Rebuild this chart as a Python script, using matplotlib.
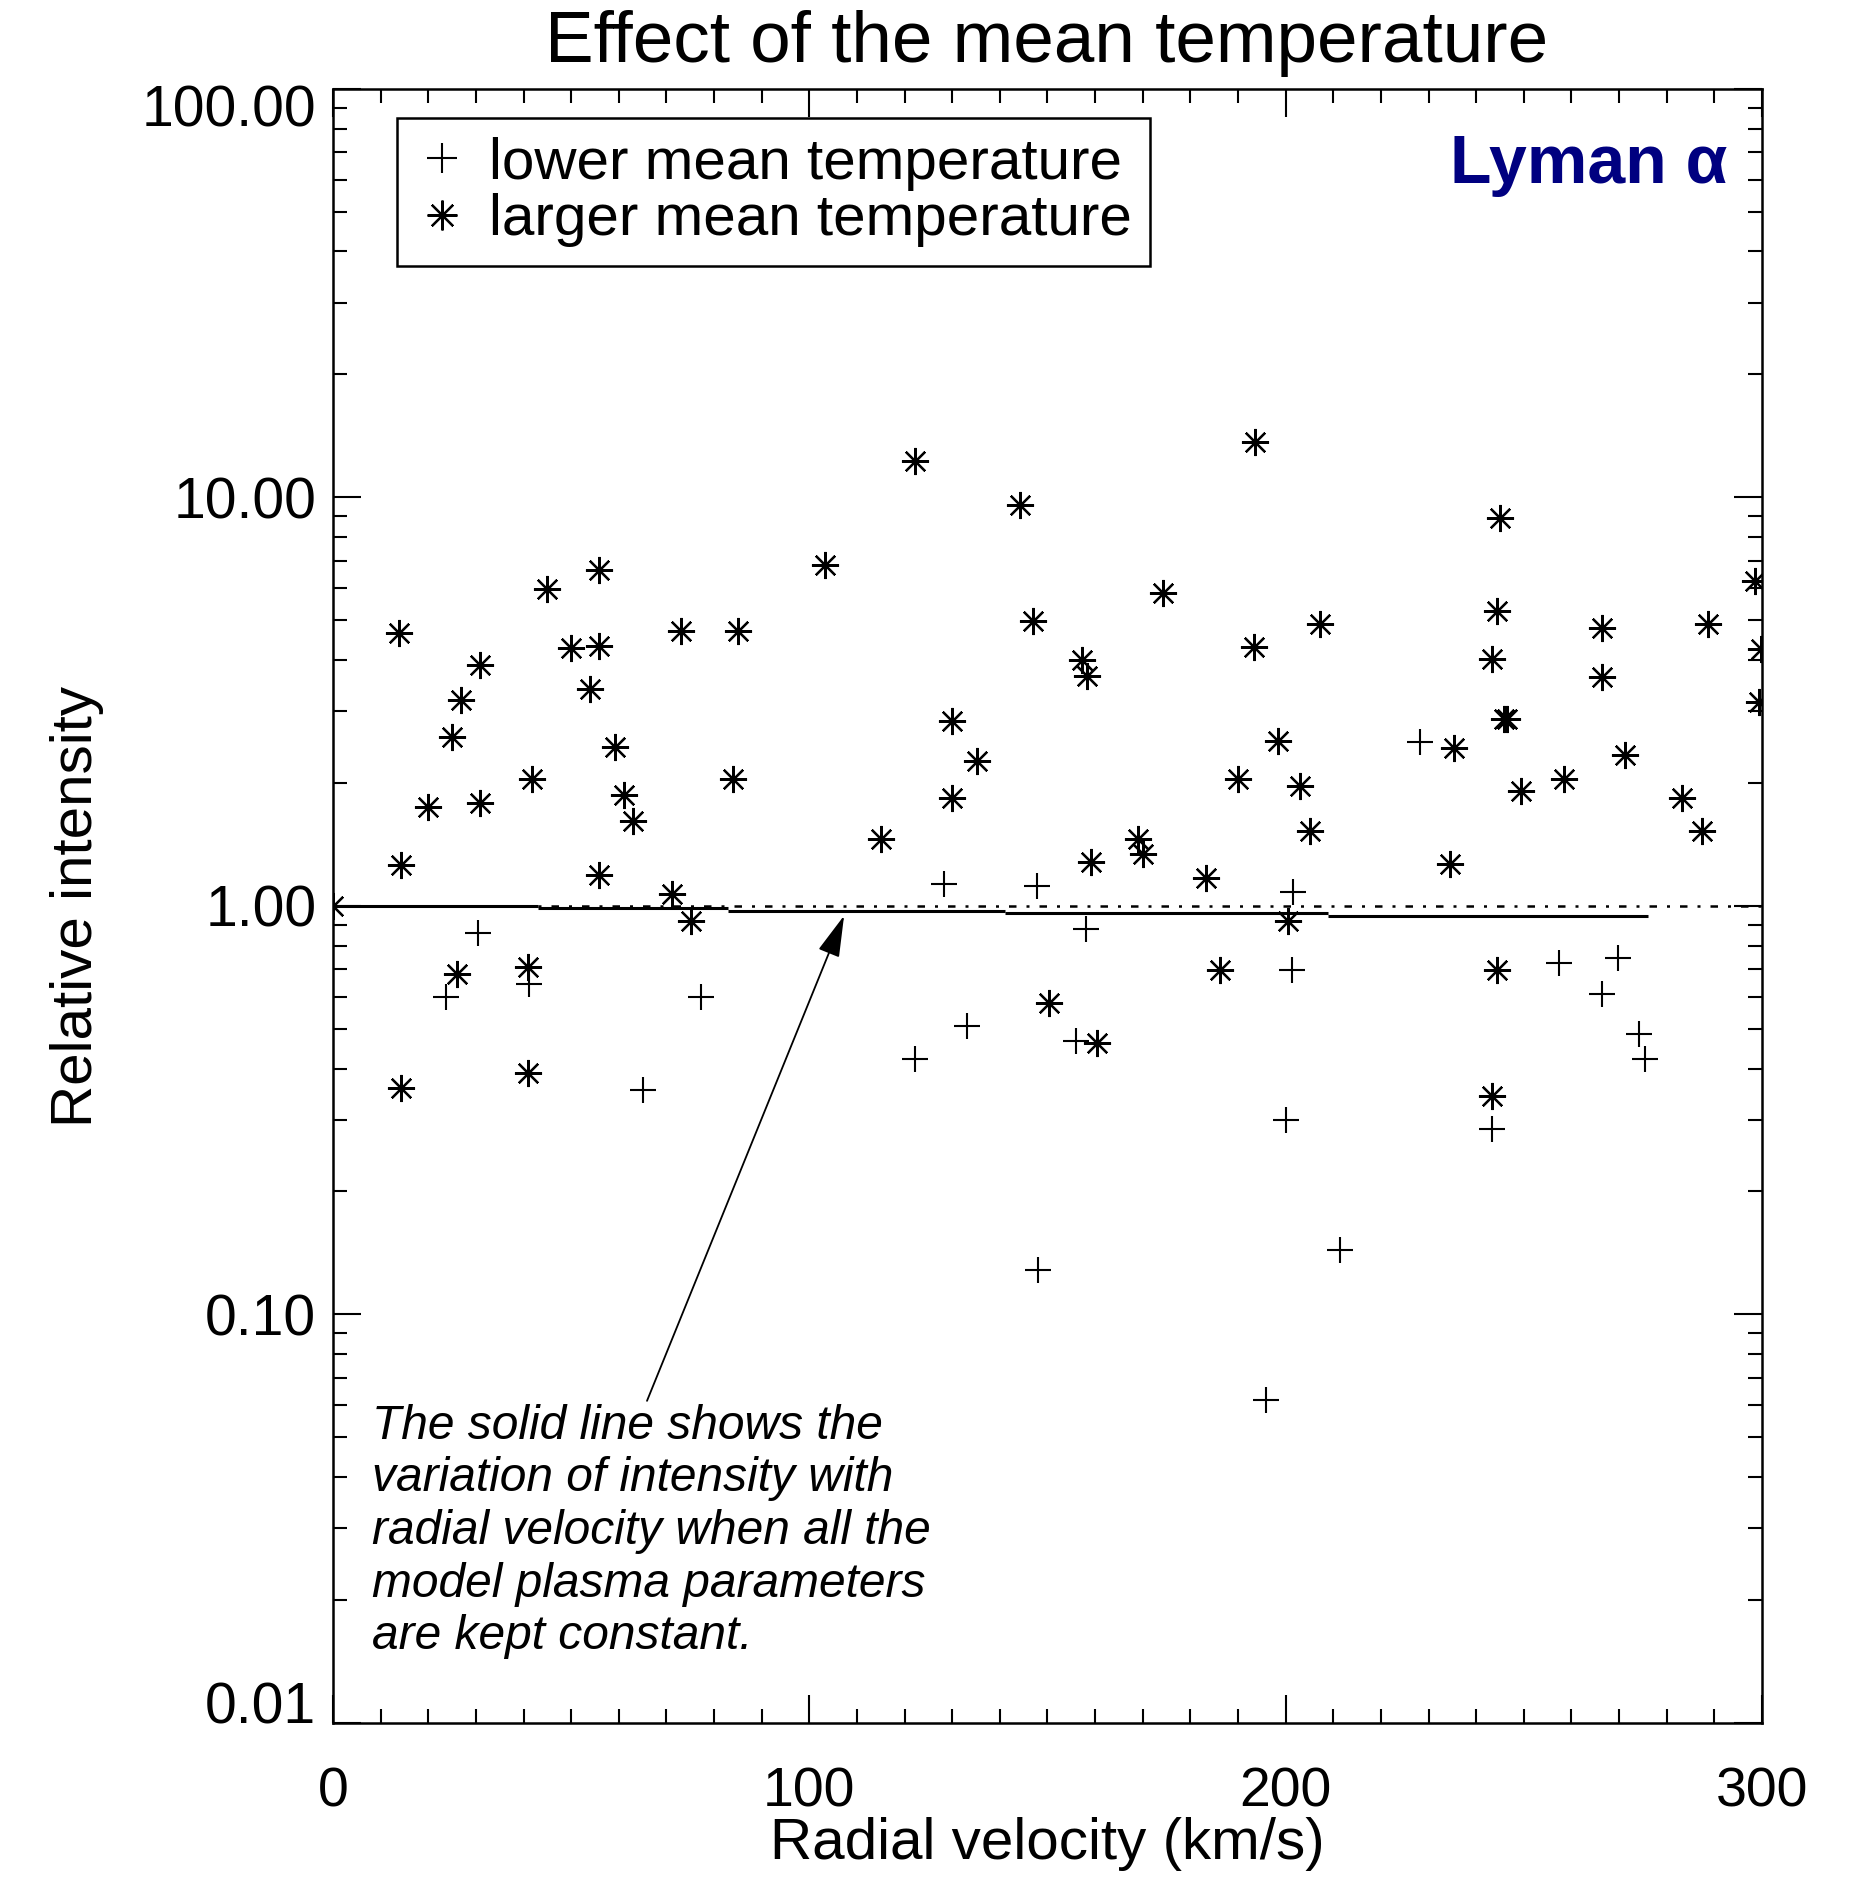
import matplotlib
matplotlib.use('Agg')
import matplotlib.pyplot as plt
import matplotlib.transforms as mtransforms
from matplotlib.ticker import FixedLocator, MultipleLocator, LogLocator, NullFormatter, FormatStrFormatter

plt.rcParams['font.family'] = ['Liberation Sans', 'DejaVu Sans']

# larger mean temperature (asterisks)
vel_hot = [0, 13.9, 14.2, 14.2, 20, 25, 26.8, 26, 30.9, 30.9, 41.7, 41, 41, 45, 50, 53.9,
           55.9, 55.9, 59.2, 61, 63, 55.9, 71.1, 75.1, 73.1, 85, 84, 103.2, 115.1, 122.2,
           130, 130, 135.3, 144.2, 147, 150.3, 157.3, 158.4, 159.1, 160.4, 169, 170,
           174.3, 183.2, 186.2, 190, 193.5, 193.3, 198.3, 200.4, 203.1, 205.2, 207.2,
           234.5, 235.3, 243.4, 244.4, 245.1, 245.9, 246.5, 244.4, 243.4, 249.4, 258.5,
           266.4, 266.4, 271.2, 283.3, 287.4, 288.6, 298.5, 299.8, 299.3]
int_hot = [1.0, 4.67, 1.26, 0.359, 1.75, 2.59, 3.19, 0.68, 3.89, 1.79, 2.05, 0.707, 0.389,
           5.97, 4.28, 3.40, 6.65, 4.34, 2.45, 1.87, 1.61, 1.19, 1.07, 0.92, 4.70, 4.72,
           2.04, 6.84, 1.46, 12.25, 2.83, 1.84, 2.26, 9.6, 4.97, 0.58, 4.0, 3.66, 1.28,
           0.461, 1.46, 1.34, 5.85, 1.17, 0.698, 2.05, 13.7, 4.31, 2.54, 0.92, 1.97, 1.53,
           4.9, 1.27, 2.43, 4.03, 5.28, 8.9, 2.87, 2.87, 0.698, 0.342, 1.91, 2.04, 4.80,
           3.63, 2.34, 1.84, 1.53, 4.9, 6.26, 4.25, 3.15]

# lower mean temperature (plus signs)
vel_cold = [23.8, 30.4, 41.2, 65, 77.2, 122.2, 128.3, 133.1, 147.7, 148, 156, 158.1,
            195.8, 200.1, 201.6, 201.4, 211.5, 228.2, 243.4, 257.5, 269.7, 266.4, 274.2, 275.5]
int_cold = [0.60, 0.86, 0.643, 0.354, 0.597, 0.422, 1.13, 0.507, 1.12, 0.1285, 0.467, 0.879,
            0.0617, 0.30, 1.08, 0.698, 0.144, 2.52, 0.285, 0.727, 0.746, 0.609, 0.487, 0.422]

# constant-parameter model (step line) and reference level
step_edges = [0, 43, 83, 141, 209, 276]
step_vals = [1.0, 0.990, 0.972, 0.959, 0.945]
ref_start, ref_end, ref_level = 43, 300, 1.0

fig = plt.figure(figsize=(18.72, 18.88), dpi=100)
ax = fig.add_axes([0.1779, 0.0874, 0.7633, 0.8655])

ax.plot(vel_cold, int_cold, linestyle='none', marker='+', markersize=19,
        markeredgewidth=1.5, color='black', label='lower mean temperature')
ax.plot(vel_hot, int_hot, linestyle='none', marker=(8, 2, 0), markersize=19.5,
        markeredgewidth=1.6, color='black', label='larger mean temperature')

ax.hlines(step_vals, step_edges[:-1], step_edges[1:], colors='black', linewidth=2.2)
ax.hlines(ref_level, ref_start, ref_end, colors='black', linewidth=1.8,
          linestyles=[(0, (1.2, 4, 3, 4))])

ax.set_yscale('log')
ax.set_xlim(0, 300)
ax.set_ylim(0.01, 100)

ax.xaxis.set_major_locator(FixedLocator([0, 100, 200, 300]))
ax.xaxis.set_minor_locator(MultipleLocator(10))
ax.yaxis.set_major_locator(FixedLocator([0.01, 0.1, 1, 10, 100]))
ax.yaxis.set_minor_locator(LogLocator(base=10, subs=range(2, 10)))
ax.yaxis.set_minor_formatter(NullFormatter())
ax.yaxis.set_major_formatter(FormatStrFormatter('%.2f'))

ax.tick_params(which='both', direction='in', top=True, right=True, width=1.5, colors='black')
ax.tick_params(which='major', length=20)
ax.tick_params(which='minor', length=10)
ax.tick_params(axis='x', which='major', labelsize=40, pad=31)
ax.tick_params(axis='y', which='major', labelsize=41, pad=12)
for s in ax.spines.values():
    s.set_linewidth(1.8)

# end labels sit inside the axis range, as in the original
fig.canvas.draw()
ylabels = ax.get_yticklabels()
ylabels[0].set_transform(ylabels[0].get_transform() +
                         mtransforms.ScaledTranslation(0, 0.2, fig.dpi_scale_trans))
ylabels[-1].set_transform(ylabels[-1].get_transform() +
                          mtransforms.ScaledTranslation(0, -0.17, fig.dpi_scale_trans))

ax.set_xlabel('Radial velocity (km/s)', fontsize=42, labelpad=-1)
ax.set_ylabel('Relative intensity', fontsize=42, labelpad=27)
fig.text(0.5593, 0.967, 'Effect of the mean temperature', fontsize=52.5,
         ha='center', va='baseline')

leg = ax.legend(loc='upper left', bbox_to_anchor=(0.0448, 0.9823), fontsize=42,
                frameon=True, fancybox=False, edgecolor='black', framealpha=1,
                handlelength=0.9, handletextpad=0.35, labelspacing=0.05,
                borderpad=0.32, borderaxespad=0, markerscale=1.1)
leg.get_frame().set_linewidth(1.8)

ax.text(0.9761, 0.9535, 'Lyman α', transform=ax.transAxes, fontsize=49,
        fontweight='bold', color='#000080', ha='right', va='center')

ax.annotate('The solid line shows the\nvariation of intensity with\nradial velocity when all the\n'
            'model plasma parameters\nare kept constant.',
            xy=(107.3, 0.947), xytext=(8.2, 0.0605), textcoords='data',
            fontsize=34.5, fontstyle='italic', ha='left', va='top', linespacing=1.22,
            arrowprops=dict(arrowstyle='-|>,head_length=1.3,head_width=0.35',
                            mutation_scale=20, color='black', linewidth=1.3,
                            shrinkA=0, shrinkB=0,
                            relpos=(0.49, 1.0)))

fig.savefig('out.png', dpi=100)
